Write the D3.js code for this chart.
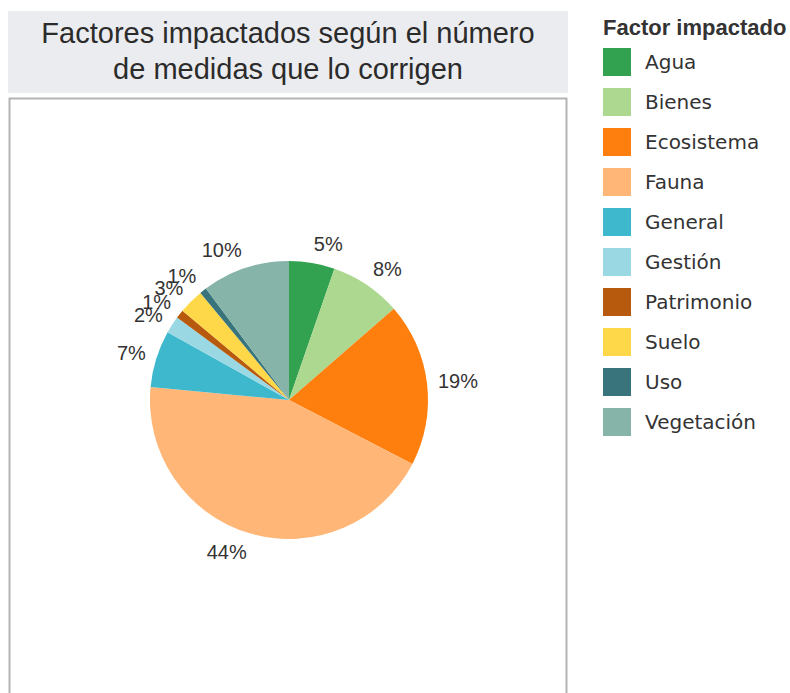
<!DOCTYPE html>
<html lang="es">
<head>
    <meta charset="UTF-8">
    <title>Factores impactados</title>
    <script src="https://d3js.org/d3.v7.min.js"></script>
    <style>
        body { margin: 0; background: #fff; }
        .title text { font-family: "Liberation Sans", Arial, sans-serif; font-size: 29px; fill: #2b2b2b; }
        .legend .head { font-family: "Liberation Sans", Arial, sans-serif; font-size: 22px; font-weight: bold; fill: #333; }
        .legend .item { font-family: "DejaVu Sans", Verdana, sans-serif; font-size: 20px; fill: #333; }
        .pct { font-family: "Liberation Sans", Arial, sans-serif; font-size: 20px; fill: #333; }
    </style>
</head>
<body>
<svg></svg>
<script>
    // data (share of measures, %)
    var factors = ["Agua", "Bienes", "Ecosistema", "Fauna", "General", "Gestión", "Patrimonio", "Suelo", "Uso", "Vegetación"];
    var shares = [5.3, 8.3, 19.0, 43.9, 6.6, 2.0, 1.0, 2.9, 0.8, 10.2];
    var palette = ["#32a250", "#acd88f", "#ff7f0e", "#ffb677", "#3db8cd", "#9ad9e4", "#b85a0d", "#ffd84a", "#39737c", "#86b4a9"];
    var titleLines = ["Factores impactados según el número", "de medidas que lo corrigen"];
    var legendTitle = "Factor impactado";

    var width = 790, height = 693;
    var svg = d3.select("svg").attr("width", width).attr("height", height);

    // title box
    var title = svg.append("g").classed("title", true);
    title.append("rect")
        .attr("x", 8).attr("y", 11).attr("width", 560).attr("height", 82)
        .style("fill", "#ebecef");
    title.selectAll("text")
        .data(titleLines)
        .enter()
        .append("text")
        .attr("x", 288)
        .attr("y", function (d, i) { return 43 + i * 36; })
        .attr("text-anchor", "middle")
        .text(function (d) { return d; });

    // pane frame (runs off the bottom)
    svg.append("rect")
        .attr("x", 9.5).attr("y", 98.5).attr("width", 557).attr("height", 620)
        .style("fill", "none").style("stroke", "#b4b4b4").style("stroke-width", 2);

    var color = d3.scaleOrdinal().domain(factors).range(palette);

    var cx = 289, cy = 400, radius = 139;
    var total = d3.sum(shares);
    var pie = d3.pie().sort(null).value(function (d) { return d.v; });
    var arcs = pie(factors.map(function (f, i) { return {name: f, v: shares[i]}; }));
    var arc = d3.arc().innerRadius(0).outerRadius(radius);

    var chart = svg.append("g").attr("transform", "translate(" + cx + "," + cy + ")");
    chart.selectAll(".slice")
        .data(arcs)
        .enter()
        .append("path")
        .classed("slice", true)
        .attr("d", arc)
        .style("fill", function (d) { return color(d.data.name); });

    // percentage labels: anchored at a point just outside the rim,
    // the text hangs away from the pie on that side
    var labelR = radius + 11;
    function mid(d) { return (d.startAngle + d.endAngle) / 2; }
    chart.selectAll(".pct")
        .data(arcs)
        .enter()
        .append("text")
        .classed("pct", true)
        .attr("x", function (d) { return labelR * Math.sin(mid(d)); })
        .attr("y", function (d) {
            var a = mid(d);
            return -labelR * Math.cos(a) + 7 - 8 * Math.cos(a);
        })
        .attr("text-anchor", function (d) { return Math.sin(mid(d)) >= 0 ? "start" : "end"; })
        .text(function (d) { return Math.round(d.data.v / total * 100) + "%"; });

    // legend
    var legend = svg.append("g").classed("legend", true);
    legend.append("text").classed("head", true)
        .attr("x", 603).attr("y", 35)
        .text(legendTitle);
    var rows = legend.selectAll(".row")
        .data(factors)
        .enter()
        .append("g")
        .attr("transform", function (d, i) { return "translate(603," + (48 + i * 40) + ")"; });
    rows.append("rect")
        .attr("width", 28).attr("height", 28)
        .style("fill", function (d) { return color(d); });
    rows.append("text").classed("item", true)
        .attr("x", 42).attr("y", 21)
        .text(function (d) { return d; });
</script>
</body>
</html>
